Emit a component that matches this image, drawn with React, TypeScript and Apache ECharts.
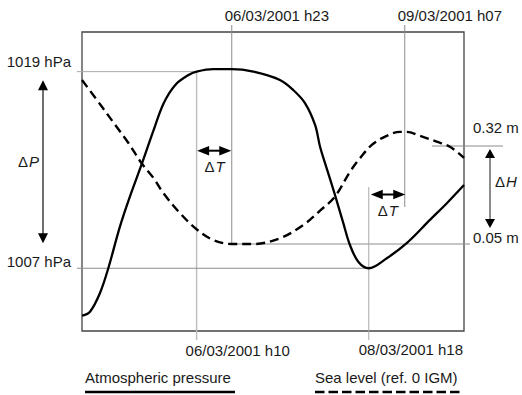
import React, { useEffect, useRef } from "react";
import * as echarts from "echarts";

// Schematic time axis (arbitrary hour-like units across the panel)
const pressureTimes = [0, 2.9, 6.5, 9.5, 13.7, 17.3, 21.7, 25.9, 29.5, 33.7, 38.5, 41.4, 47.4, 54.1, 61.9, 71.5, 76.3, 80.6, 84.2, 86.0, 88.4, 91.4, 94.4, 96.8, 99.8, 103.6, 110.1, 117.3, 125.7, 131.8, 138];
const pressureValues = [1004.1, 1004.35, 1005.49, 1007.0, 1009.54, 1011.37, 1013.41, 1015.44, 1017.07, 1018.19, 1018.8, 1019.0, 1019.15, 1019.15, 1019.0, 1018.49, 1017.88, 1017.07, 1015.75, 1014.42, 1013.1, 1011.47, 1009.75, 1008.42, 1007.4, 1007.0, 1007.61, 1008.53, 1009.95, 1010.97, 1012.08];

const seaTimes = [0, 7.2, 12.0, 16.9, 21.4, 25.9, 29.4, 35.4, 41.4, 47.4, 54.1, 61.9, 71.5, 79.9, 86.0, 91.4, 96.8, 100.4, 104.7, 109.5, 114.9, 117.3, 122.1, 128.1, 132.9, 138];
const seaValues = [0.502, 0.428, 0.378, 0.327, 0.274, 0.231, 0.19, 0.135, 0.0905, 0.061, 0.05, 0.05, 0.0657, 0.102, 0.142, 0.181, 0.249, 0.286, 0.323, 0.346, 0.359, 0.359, 0.348, 0.332, 0.318, 0.287];

// Event times: pressure reaches max, sea level min, pressure min, sea level max
const eventTimes = [41.4, 54.1, 103.6, 116.6];
const eventLabels = ["06/03/2001 h10", "06/03/2001 h23", "08/03/2001 h18", "09/03/2001 h07"];

const pressureMarks = [1019, 1007];
const pressureMarkLabels = ["1019 hPa", "1007 hPa"];
const seaMarks = [0.32, 0.05];
const seaMarkLabels = ["0.32 m", "0.05 m"];
const seaHighLineStart = 126.4;

const legendLabels = ["Atmospheric pressure", "Sea level (ref. 0 IGM)"];

const FONT = "'Liberation Sans', Arial, Helvetica, sans-serif";
const TEXT = "#1a1a1a";

export default function App() {
  const ref = useRef<HTMLDivElement>(null);

  useEffect(() => {
    if (!ref.current) return;
    const chart = echarts.init(ref.current, null, { renderer: "svg" });

    chart.setOption({
      animation: false,
      grid: {
        show: true,
        left: 82,
        top: 32,
        width: 382,
        height: 299,
        borderColor: "#444",
        borderWidth: 1.3,
        backgroundColor: "transparent",
      },
      xAxis: { type: "value", min: 0, max: 138, show: false },
      yAxis: [
        { type: "value", min: 1003.17, max: 1021.42, show: false },
        { type: "value", min: -0.1897, max: 0.6341, show: false },
      ],
      series: [
        {
          name: legendLabels[0],
          type: "line",
          yAxisIndex: 0,
          data: pressureTimes.map((t, i) => [t, pressureValues[i]]),
          smooth: 0.35,
          showSymbol: false,
          symbol: "none",
          lineStyle: { color: "#000", width: 2.3 },
          z: 5,
        },
        {
          name: legendLabels[1],
          type: "line",
          yAxisIndex: 1,
          data: seaTimes.map((t, i) => [t, seaValues[i]]),
          smooth: 0.35,
          showSymbol: false,
          symbol: "none",
          lineStyle: { color: "#000", width: 2.4, type: [9, 5] },
          z: 5,
        },
      ],
    });

    const P = (t: number, v: number) =>
      chart.convertToPixel({ xAxisIndex: 0, yAxisIndex: 0 }, [t, v]) as number[];
    const S = (t: number, v: number) =>
      chart.convertToPixel({ xAxisIndex: 0, yAxisIndex: 1 }, [t, v]) as number[];

    const xs = eventTimes.map((t) => P(t, pressureMarks[0])[0]);
    const [x10, x23, x18, x07] = xs;
    const y1019 = P(0, pressureMarks[0])[1];
    const y1007 = P(0, pressureMarks[1])[1];
    const y032 = S(0, seaMarks[0])[1];
    const y005 = S(0, seaMarks[1])[1];
    const xLeft = P(0, pressureMarks[0])[0];
    const xRight = P(138, pressureMarks[0])[0];
    const x032Start = S(seaHighLineStart, seaMarks[0])[0];

    const line = (x1: number, y1: number, x2: number, y2: number, stroke: string, lineWidth = 1, lineDash?: number[]) => ({
      type: "line",
      shape: { x1, y1, x2, y2 },
      style: { stroke, lineWidth, lineDash },
      silent: true,
      z: 1,
    });
    const head = (x: number, y: number, dir: string, len: number, half: number, fill = "#000") => {
      let pts: number[][] = [];
      if (dir === "up") pts = [[x, y], [x - half, y + len], [x + half, y + len]];
      if (dir === "down") pts = [[x, y], [x - half, y - len], [x + half, y - len]];
      if (dir === "left") pts = [[x, y], [x + len, y - half], [x + len, y + half]];
      if (dir === "right") pts = [[x, y], [x - len, y - half], [x - len, y + half]];
      return { type: "polygon", shape: { points: pts }, style: { fill }, silent: true, z: 10 };
    };
    const text = (x: number, y: number, t: string, align: string, extra: any = {}) => ({
      type: "text",
      x,
      y,
      silent: true,
      z: 10,
      style: {
        text: t,
        fontSize: 15,
        fontFamily: FONT,
        fill: TEXT,
        align,
        verticalAlign: "middle",
        ...extra,
      },
    });
    const rich = {
      a: { fontSize: 15, fontFamily: FONT, fill: TEXT },
      b: { fontSize: 15, fontFamily: FONT, fill: TEXT, fontStyle: "italic", padding: [0, 0, 0, 1] },
    };

    const elements: any[] = [
      // guide lines
      line(xLeft - 5, y1019, x10, y1019, "#a8a8a8", 1),
      line(x10, y1019, x10, 340, "#bdbdbd", 1.4),
      line(x23, 25, x23, y005, "#8c8c8c", 1),
      line(x23, y005, xRight + 6, y005, "#8c8c8c", 1),
      line(xLeft - 5, y1007, x18, y1007, "#8c8c8c", 1),
      line(x18, 187, x18, 340, "#a8a8a8", 1),
      line(x07, 25, x07, 207, "#8c8c8c", 1),
      line(x032Start, y032, xRight + 39, y032, "#8c8c8c", 1),

      // ΔT arrows
      line(x10 + 8, 150.7, x23 - 8, 150.7, "#000", 2),
      head(x10 + 0.5, 150.7, "left", 12, 4.8),
      head(x23 - 0.5, 150.7, "right", 12, 4.8),
      line(x18 + 9, 194.5, x07 - 8, 194.5, "#000", 2),
      head(x18 + 2, 194.5, "left", 12, 4.8),
      head(x07 + 0.5, 194.5, "right", 12, 4.8),

      // ΔP arrow
      line(43, y1019 + 14, 43, y1007 - 30, "#222", 1.3),
      head(43, y1019 + 8.5, "up", 10, 5),
      head(43, y1007 - 25, "down", 10, 5),

      // ΔH arrow
      line(490, y032 + 8, 490, y005 - 22, "#666", 1.5),
      head(490, y032 + 3, "up", 9, 5),
      head(490, y005 - 16, "down", 9, 5),

      // labels
      text(71, y1019 - 9.7, pressureMarkLabels[0], "right"),
      text(71, y1007 - 6.8, pressureMarkLabels[1], "right"),
      text(x10 - 11, 350, eventLabels[0], "left"),
      text(x23 - 7, 15.3, eventLabels[1], "left"),
      text(x18 - 10, 349.5, eventLabels[2], "left"),
      text(x07 - 7, 15.3, eventLabels[3], "left"),
      text(473, y032 - 18.5, seaMarkLabels[0], "left"),
      text(473, y005 - 6.5, seaMarkLabels[1], "left"),

      text(39, 161, "{a|Δ}{b|P}", "right", { rich }),
      text(495, 181, "{a|Δ}{b|H}", "left", { rich }),
      text((x10 + x23) / 2 + 0.5, 166, "{a|Δ}{b|T}", "center", { rich }),
      text((x18 + x07) / 2 + 1, 210, "{a|Δ}{b|T}", "center", { rich }),

      // legend
      text(85, 377.5, legendLabels[0], "left"),
      text(315, 377.5, legendLabels[1], "left"),
      line(85, 392, 235, 392, "#000", 2.5),
      line(315, 392, 463, 392, "#000", 2.5, [9.5, 4]),
    ];

    chart.setOption({ graphic: { elements } });

    return () => chart.dispose();
  }, []);

  return (
    <div
      ref={ref}
      style={{ position: "absolute", left: 0, top: 0, width: 522, height: 395, background: "#fff" }}
    />
  );
}
